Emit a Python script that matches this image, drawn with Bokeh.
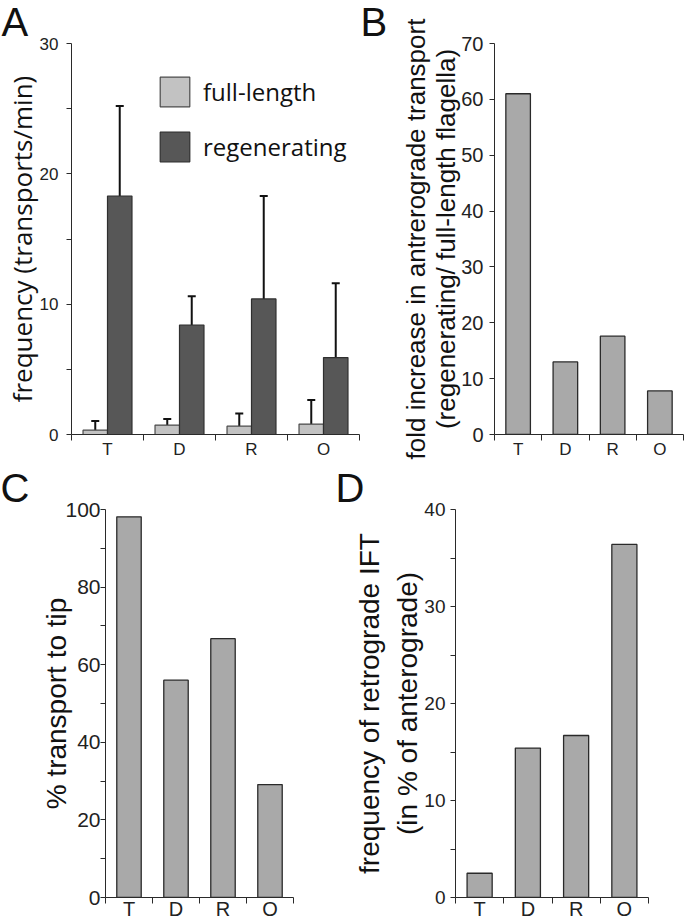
from bokeh.plotting import figure
from bokeh.models import FixedTicker, Whisker, TeeHead, ColumnDataSource, Range1d
from bokeh.layouts import row, column
from bokeh.embed import file_html
from bokeh.resources import INLINE

# ---------------- data ----------------
categories = ["T", "D", "R", "O"]

# Panel A: frequency (transports/min)
freq_full = [0.33, 0.72, 0.64, 0.80]
freq_full_err = [0.70, 0.46, 0.98, 1.85]
freq_regen = [18.3, 8.4, 10.4, 5.9]
freq_regen_err = [6.9, 2.2, 7.9, 5.7]
series_names = ["full-length", "regenerating"]

# Panel B: fold increase
fold_increase = [61.0, 13.0, 17.6, 7.8]
# Panel C: % transport to tip
pct_tip = [98.1, 56.0, 66.7, 29.1]
# Panel D: frequency of retrograde IFT
retro_freq = [2.5, 15.4, 16.7, 36.4]

A_yticks = [0, 10, 20, 30]
A_yminor = [5, 15, 25]
B_yticks = [0, 10, 20, 30, 40, 50, 60, 70]
B_yminor = []
C_yticks = [0, 20, 40, 60, 80, 100]
C_yminor = [10, 30, 50, 70, 90]
D_yticks = [0, 10, 20, 30, 40]
D_yminor = [5, 15, 25, 35]

A_ylabel = "frequency (transports/min)"
B_ylabel = "fold increase in antrerograde transport\n(regenerating/ full-length flagella)"
C_ylabel = "% transport to tip"
D_ylabel = "frequency of retrograde IFT\n(in % of anterograde)"

# ---------------- helpers ----------------
AX = "#2a2a2a"
ARIAL = "Liberation Sans"
n = len(categories)
xs = [i + 0.5 for i in range(n)]
bounds = list(range(n + 1))


def make_fig(w, h, left, right, top, bottom, ymax, yticks, yminor, ylabel,
             ytick_fs, ytick_standoff, xtick_fs, xtick_standoff,
             ylabel_fs, ylabel_font, ylabel_standoff, ylabel_lh,
             letter, letter_x, letter_standoff):
    p = figure(width=w, height=h, output_backend="svg", toolbar_location=None,
               x_range=Range1d(0, n), y_range=Range1d(0, ymax),
               min_border_left=left, min_border_right=right,
               min_border_top=top, min_border_bottom=bottom)
    p.outline_line_color = None
    p.xgrid.visible = False
    p.ygrid.visible = False
    p.background_fill_color = "white"
    p.border_fill_color = "white"

    # panel letter as the plot title
    p.title.text = letter
    p.title.align = "left"
    p.title.vertical_align = "top"
    p.title.offset = letter_x - left
    p.title.standoff = letter_standoff
    p.title.text_font = ARIAL
    p.title.text_font_size = "40px"
    p.title.text_line_height = 0.8
    p.title.text_font_style = "normal"
    p.title.text_color = "#111111"

    xa = p.xaxis[0]
    xa.ticker = FixedTicker(ticks=xs, minor_ticks=bounds)
    xa.major_label_overrides = {x: c for x, c in zip(xs, categories)}
    xa.major_tick_out = 0
    xa.major_tick_in = 0
    xa.minor_tick_out = 6
    xa.minor_tick_in = 0
    xa.minor_tick_line_color = AX
    xa.axis_line_color = AX
    xa.major_label_standoff = xtick_standoff
    xa.axis_label_standoff = 0
    xa.major_label_text_font = ARIAL
    xa.major_label_text_font_size = xtick_fs
    xa.major_label_text_color = "#222222"

    ya = p.yaxis[0]
    ya.ticker = FixedTicker(ticks=yticks, minor_ticks=yminor)
    ya.major_tick_out = 5
    ya.major_tick_in = 0
    ya.minor_tick_out = 5
    ya.minor_tick_in = 0
    ya.major_tick_line_color = AX
    ya.minor_tick_line_color = AX
    ya.axis_line_color = AX
    ya.major_label_standoff = ytick_standoff
    ya.major_label_text_font = ARIAL
    ya.major_label_text_font_size = ytick_fs
    ya.major_label_text_color = "#222222"
    ya.axis_label = ylabel
    ya.axis_label_text_font = ylabel_font
    ya.axis_label_text_font_size = ylabel_fs
    ya.axis_label_text_font_style = "normal"
    ya.axis_label_text_color = "#111111"
    ya.axis_label_standoff = ylabel_standoff
    ya.axis_label_text_line_height = ylabel_lh
    return p


# ---------------- Panel A ----------------
pA = make_fig(360, 462, 70, 1, 43, 28, 30, A_yticks, A_yminor, A_ylabel,
              "17px", 8, "17px", -1, "26px", "Open Sans", -3, 1.2,
              "A", 0, -4)
bw = 0.34
x_full = [x - bw / 2 for x in xs]
x_regen = [x + bw / 2 for x in xs]
pA.vbar(x=x_full, top=freq_full, width=bw, bottom=0, fill_color="#c2c2c2",
        line_color="#4a4a4a", line_width=1.2, legend_label=series_names[0])
pA.vbar(x=x_regen, top=freq_regen, width=bw, bottom=0, fill_color="#575757",
        line_color="#2f2f2f", line_width=1.2, legend_label=series_names[1])

for xb, vals, errs in ((x_full, freq_full, freq_full_err), (x_regen, freq_regen, freq_regen_err)):
    src = ColumnDataSource(dict(base=xb, lower=vals, upper=[v + e for v, e in zip(vals, errs)]))
    pA.add_layout(Whisker(base="base", lower="lower", upper="upper", source=src,
                          line_color="#111111", line_width=2,
                          upper_head=TeeHead(size=8, line_color="#111111", line_width=2),
                          lower_head=None))

lg = pA.legend[0]
lg.location = (85, 269)
lg.glyph_width = 37
lg.glyph_height = 37
lg.label_standoff = 10
lg.spacing = 18
lg.padding = 0
lg.margin = 0
lg.border_line_alpha = 0
lg.background_fill_alpha = 0
lg.label_text_font = "Open Sans"
lg.label_text_font_size = "24px"
lg.label_text_color = "#111111"
lg.label_height = 37

# ---------------- Panel B ----------------
pB = make_fig(324, 462, 134, 1, 43, 28, 70, B_yticks, B_yminor, B_ylabel,
              "20px", 6, "17px", -1, "26px", ARIAL, -3, 1.0,
              "B", 0, -4)
sbw = 0.52
pB.vbar(x=xs, top=fold_increase, width=sbw, fill_color="#a9a9a9",
        line_color="#2a2a2a", line_width=1.3)

# ---------------- Panel C ----------------
pC = make_fig(330, 460, 105, 37, 47, 23, 100, C_yticks, C_yminor, C_ylabel,
              "21px", 0, "20px", -6, "28px", ARIAL, -10, 1.2,
              "C", 0, -4)
pC.vbar(x=xs, top=pct_tip, width=sbw, fill_color="#a9a9a9",
        line_color="#2a2a2a", line_width=1.3)

# ---------------- Panel D ----------------
pD = make_fig(354, 460, 125, 36, 47, 23, 40, D_yticks, D_yminor, D_ylabel,
              "19px", 5, "20px", -6, "28px", ARIAL, -2, 1.25,
              "D", 5, -4)
pD.vbar(x=xs, top=retro_freq, width=sbw, fill_color="#a9a9a9",
        line_color="#2a2a2a", line_width=1.3)

layout = column(row(pA, pB), row(pC, pD))

open("out.html", "w").write(file_html(layout, INLINE))
